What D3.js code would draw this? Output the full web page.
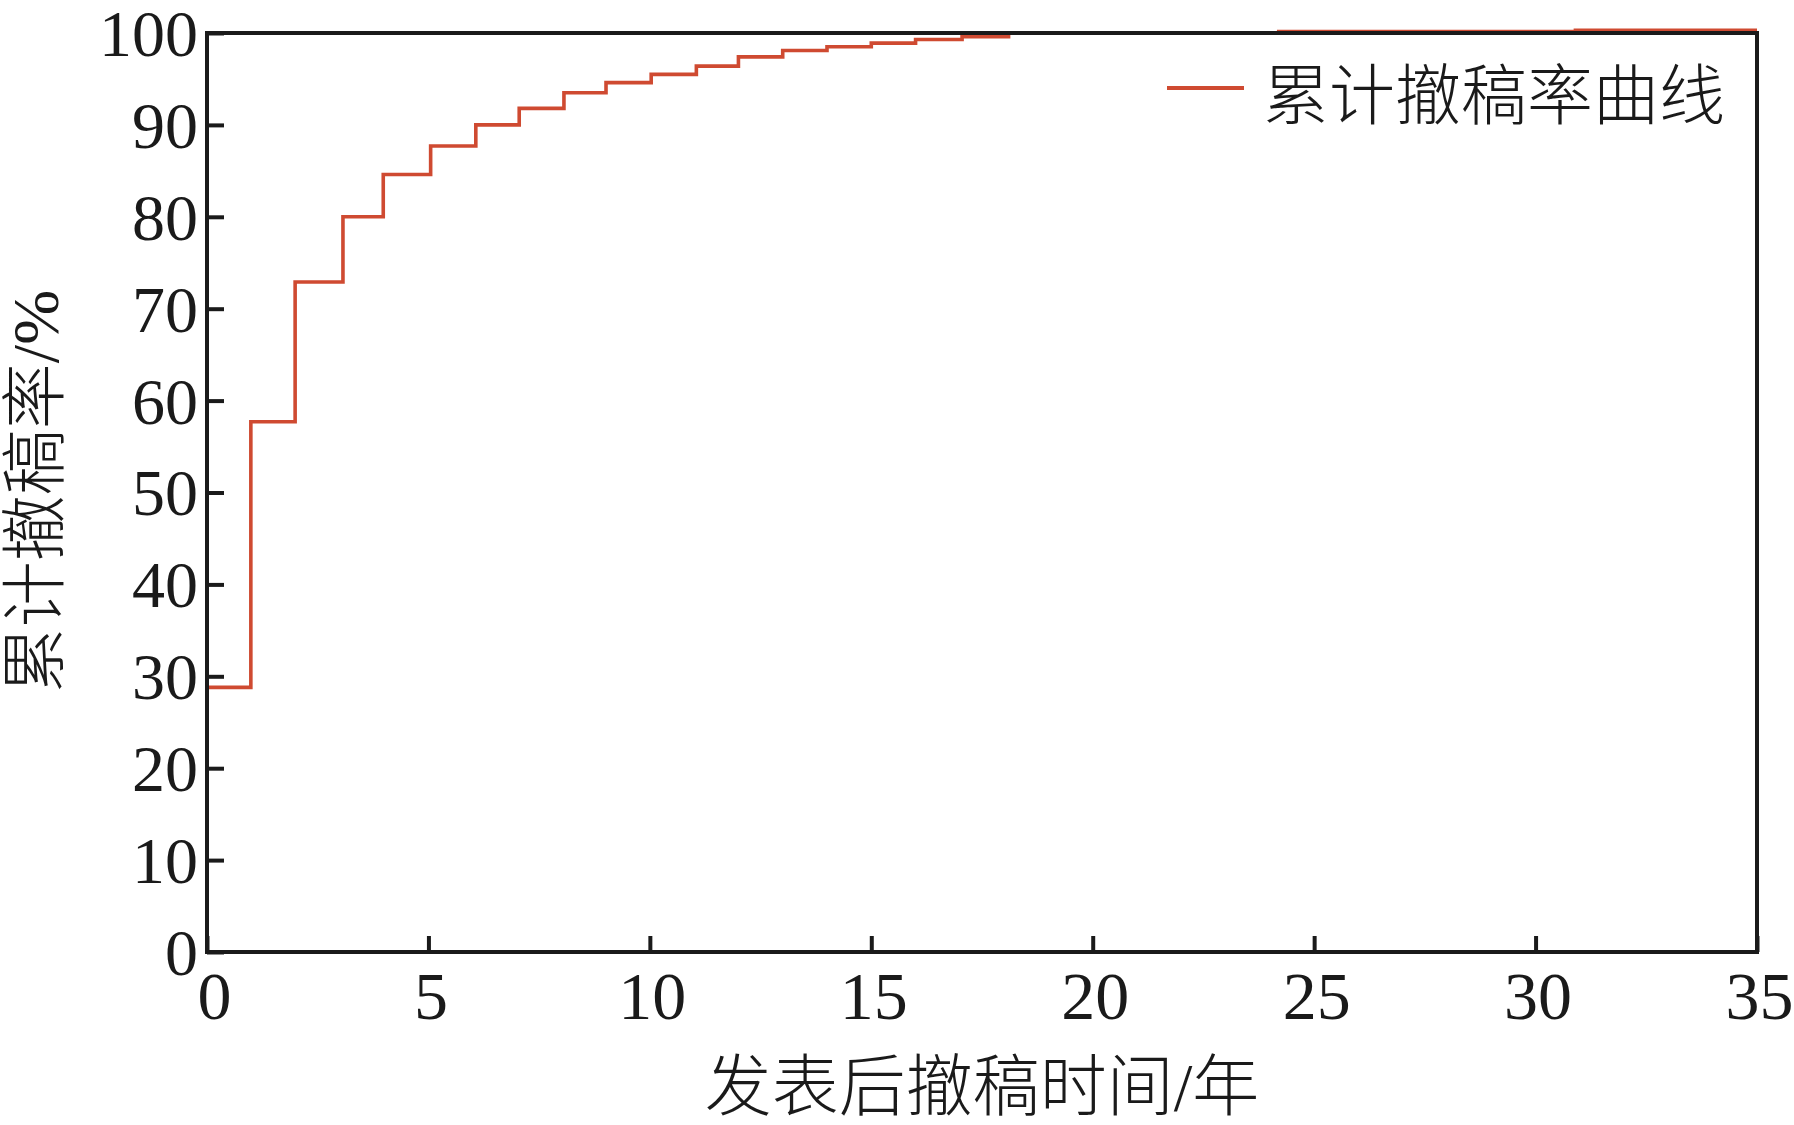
<!DOCTYPE html>
<html>
<head>
<meta charset="utf-8">
<script src="https://cdn.jsdelivr.net/npm/d3@7"></script>
<style>
  html, body { margin: 0; padding: 0; background: #fff; }
  svg { display: block; }
  .num { font-family: "Liberation Serif", "Times New Roman", serif; fill: #1a1a1a; }
  .cjk { font-family: "Liberation Serif", "Noto Sans CJK SC", serif; fill: #1a1a1a; font-weight: 300; }
</style>
</head>
<body>
<svg id="chart" width="1794" height="1125"></svg>
<script>
// ---- data ----
const years = [0, 0.99, 1.99, 3.07, 3.98, 5.05, 6.07, 7.05, 8.06, 9.01, 10.03, 11.05, 12.0, 13.0, 14.0, 15.0, 16.0, 17.05, 18.1, 24.2, 30.9];
const rates = [28.8, 57.7, 72.9, 80.0, 84.6, 87.7, 90.0, 91.8, 93.5, 94.6, 95.5, 96.4, 97.4, 98.1, 98.5, 98.9, 99.3, 99.6, 100.0, 100.15, 100.3];
const xTicks = [0, 5, 10, 15, 20, 25, 30, 35];
const yTicks = [0, 10, 20, 30, 40, 50, 60, 70, 80, 90, 100];
const xDomain = [0, 35];
const yDomain = [0, 100];
const xTitle = "发表后撤稿时间/年";
const yTitle = "累计撤稿率/%";
const legendLabel = "累计撤稿率曲线";

// ---- layout ----
const W = 1794, H = 1125;
const m = { left: 207, right: W - 1757, top: 33, bottom: H - 952 };
const lineColor = "#cf4a31";
const ink = "#1a1a1a";

const svg = d3.select("#chart");
const x = d3.scaleLinear().domain(xDomain).range([m.left, W - m.right]);
const y = d3.scaleLinear().domain(yDomain).range([H - m.bottom, m.top]);

// data series (step after), extended to the end of the x domain
const pts = years.map((t, i) => [t, rates[i]]);
pts.push([xDomain[1], rates[rates.length - 1]]);

const line = d3.line().x(d => x(d[0])).y(d => y(d[1])).curve(d3.curveStepAfter);

svg.append("path")
  .datum(pts)
  .attr("d", line)
  .attr("fill", "none")
  .attr("stroke", lineColor)
  .attr("stroke-width", 3.6);

// y axis (ticks inside)
const yAxis = svg.append("g")
  .attr("transform", `translate(${m.left},0)`)
  .call(d3.axisLeft(y).tickValues(yTicks).tickSize(-17).tickPadding(9).tickFormat(d3.format("d")));
yAxis.select(".domain").remove();
yAxis.selectAll(".tick line").attr("stroke", ink).attr("stroke-width", 4);
yAxis.selectAll(".tick text")
  .attr("class", "num")
  .attr("font-size", 66)
  .attr("dy", "0.34em")
  .attr("fill", ink);

// x axis (ticks inside)
const xAxis = svg.append("g")
  .attr("transform", `translate(0,${H - m.bottom})`)
  .call(d3.axisBottom(x).tickValues(xTicks).tickSize(-16).tickFormat(d3.format("d")));
xAxis.select(".domain").remove();
xAxis.selectAll(".tick line").attr("stroke", ink).attr("stroke-width", 4);
xAxis.selectAll(".tick text")
  .attr("class", "num")
  .attr("font-size", 68)
  .attr("dy", 0)
  .attr("y", 67)
  .attr("x", d => d === xDomain[0] ? 7 : 2)
  .attr("fill", ink);

// frame
svg.append("rect")
  .attr("x", x(xDomain[0])).attr("y", y(yDomain[1]))
  .attr("width", x(xDomain[1]) - x(xDomain[0]))
  .attr("height", y(yDomain[0]) - y(yDomain[1]))
  .attr("fill", "none")
  .attr("stroke", ink)
  .attr("stroke-width", 4);

// axis titles
svg.append("text")
  .attr("class", "cjk")
  .attr("x", (x(xDomain[0]) + x(xDomain[1])) / 2)
  .attr("y", 1110)
  .attr("text-anchor", "middle")
  .attr("font-size", 67)
  .text(xTitle);

svg.append("text")
  .attr("class", "cjk")
  .attr("transform", `translate(58,${(y(yDomain[0]) + y(yDomain[1])) / 2 - 1}) rotate(-90)`)
  .attr("text-anchor", "middle")
  .attr("font-size", 66)
  .text(yTitle);

// legend
const lg = svg.append("g");
lg.append("line")
  .attr("x1", 1167).attr("x2", 1244)
  .attr("y1", 88).attr("y2", 88)
  .attr("stroke", lineColor).attr("stroke-width", 4);
lg.append("text")
  .attr("class", "cjk")
  .attr("x", 1263).attr("y", 119)
  .attr("font-size", 66)
  .text(legendLabel);
</script>
</body>
</html>
